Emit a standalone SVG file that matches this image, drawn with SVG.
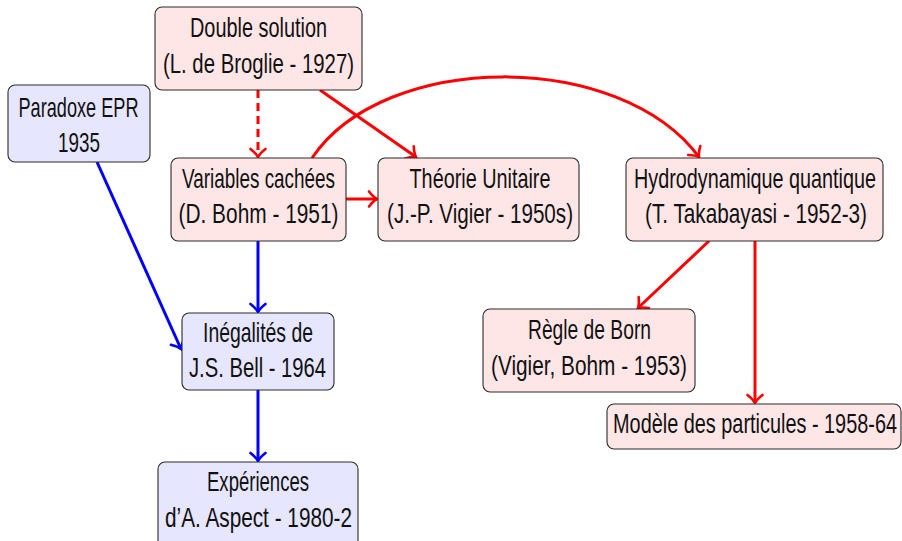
<svg xmlns="http://www.w3.org/2000/svg" width="902" height="541" viewBox="0 0 902 541">
<style>
.box rect{stroke:#2a2a2a;stroke-width:1.1}
.red rect{fill:#ffe6e6}
.blue rect{fill:#e6e6ff}
text{font-family:"Liberation Sans",Arial,sans-serif;font-size:27px;fill:#111;text-anchor:middle}
.r{stroke:#ff0000;stroke-width:3;fill:none}
.b{stroke:#0000ff;stroke-width:3;fill:none}
</style>
<defs>
<marker id="ar" markerUnits="userSpaceOnUse" markerWidth="22" markerHeight="22" viewBox="-13 -11 15 22" refX="0" refY="0" orient="auto">
<path d="M-8,-7.5 Q-3.5,-1.8 0,0 Q-3.5,1.8 -8,7.5" fill="none" stroke="#ff0000" stroke-width="2.6" stroke-linecap="round"/>
</marker>
<marker id="ab" markerUnits="userSpaceOnUse" markerWidth="22" markerHeight="22" viewBox="-13 -11 15 22" refX="0" refY="0" orient="auto">
<path d="M-8,-7.5 Q-3.5,-1.8 0,0 Q-3.5,1.8 -8,7.5" fill="none" stroke="#0000ff" stroke-width="2.6" stroke-linecap="round"/>
</marker>
</defs>
<g id="connectors">
<path class="r" d="M258,90 L258,157" stroke-dasharray="8,5" marker-end="url(#ar)"/>
<path class="r" d="M320,90 L416,157" marker-end="url(#ar)"/>
<path class="r" d="M312,158 C385,50 620,50 699,157" marker-end="url(#ar)"/>
<path class="r" d="M346,199 L377,199" marker-end="url(#ar)"/>
<path class="r" d="M709,241 L638,308" marker-end="url(#ar)"/>
<path class="r" d="M755,241 L755,403" marker-end="url(#ar)"/>
<path class="b" d="M258,241 L258,312" marker-end="url(#ab)"/>
<path class="b" d="M97,162 L181,349" marker-end="url(#ab)"/>
<path class="b" d="M258,390 L258,461" marker-end="url(#ab)"/>
</g>
<g id="double-solution" class="box red">
<rect x="155" y="7" width="207" height="83" rx="7"/>
<text transform="translate(258.5,37) scale(0.72,1)" textLength="190.3" lengthAdjust="spacingAndGlyphs">Double solution</text>
<text transform="translate(258.5,73) scale(0.72,1)" textLength="265.3" lengthAdjust="spacingAndGlyphs">(L. de Broglie - 1927)</text>
</g>
<g id="paradoxe-epr" class="box blue">
<rect x="8" y="85" width="142" height="77" rx="7"/>
<text transform="translate(78.5,117) scale(0.72,1)" textLength="166.7" lengthAdjust="spacingAndGlyphs">Paradoxe EPR</text>
<text transform="translate(79,152) scale(0.72,1)" textLength="58.3" lengthAdjust="spacingAndGlyphs">1935</text>
</g>
<g id="variables-cachees" class="box red">
<rect x="171" y="158" width="175" height="83" rx="7"/>
<text transform="translate(258.5,188) scale(0.72,1)" textLength="212.5" lengthAdjust="spacingAndGlyphs">Variables cachées</text>
<text transform="translate(258.5,223) scale(0.72,1)" textLength="222.2" lengthAdjust="spacingAndGlyphs">(D. Bohm - 1951)</text>
</g>
<g id="theorie-unitaire" class="box red">
<rect x="378" y="158" width="201" height="83" rx="7"/>
<text transform="translate(480,188) scale(0.72,1)" textLength="195.8" lengthAdjust="spacingAndGlyphs">Théorie Unitaire</text>
<text transform="translate(480,223) scale(0.72,1)" textLength="258.3" lengthAdjust="spacingAndGlyphs">(J.-P. Vigier - 1950s)</text>
</g>
<g id="hydrodynamique" class="box red">
<rect x="626" y="158" width="257" height="83" rx="7"/>
<text transform="translate(755,188) scale(0.72,1)" textLength="336.1" lengthAdjust="spacingAndGlyphs">Hydrodynamique quantique</text>
<text transform="translate(756,223) scale(0.72,1)" textLength="308.3" lengthAdjust="spacingAndGlyphs">(T. Takabayasi - 1952-3)</text>
</g>
<g id="inegalites-bell" class="box blue">
<rect x="182" y="313" width="152" height="77" rx="7"/>
<text transform="translate(258,342) scale(0.72,1)" textLength="152.8" lengthAdjust="spacingAndGlyphs">Inégalités de</text>
<text transform="translate(257.5,377) scale(0.72,1)" textLength="190.3" lengthAdjust="spacingAndGlyphs">J.S. Bell - 1964</text>
</g>
<g id="regle-born" class="box red">
<rect x="483" y="309" width="212" height="83" rx="7"/>
<text transform="translate(589.5,339) scale(0.72,1)" textLength="170.8" lengthAdjust="spacingAndGlyphs">Règle de Born</text>
<text transform="translate(589,375) scale(0.72,1)" textLength="272.2" lengthAdjust="spacingAndGlyphs">(Vigier, Bohm - 1953)</text>
</g>
<g id="modele-particules" class="box red">
<rect x="607" y="404" width="294" height="45" rx="7"/>
<text transform="translate(755,433) scale(0.72,1)" textLength="394.4" lengthAdjust="spacingAndGlyphs">Modèle des particules - 1958-64</text>
</g>
<g id="experiences-aspect" class="box blue">
<rect x="158" y="462" width="200" height="86" rx="7"/>
<text transform="translate(258,491) scale(0.72,1)" textLength="141.7" lengthAdjust="spacingAndGlyphs">Expériences</text>
<text transform="translate(258.5,527) scale(0.72,1)" textLength="259.7" lengthAdjust="spacingAndGlyphs">d’A. Aspect - 1980-2</text>
</g>
</svg>
